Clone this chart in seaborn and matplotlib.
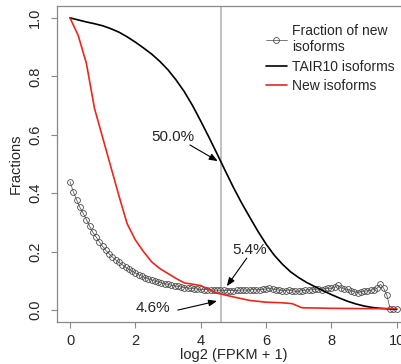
import numpy as np
import pandas as pd
import matplotlib
matplotlib.use("Agg")
import matplotlib.pyplot as plt
import seaborn as sns

# TAIR10 isoforms (black curve)
tair_x = [0, 0.25, 0.5, 0.75, 1.0, 1.25, 1.5, 1.75, 2.0, 2.25, 2.5, 2.75, 3.0,
          3.25, 3.5, 3.75, 4.0, 4.25, 4.5, 4.75, 5.0, 5.25, 5.5, 5.75, 6.0,
          6.25, 6.5, 6.75, 7.0, 7.25, 7.5, 7.75, 8.0, 8.25, 8.5, 8.75, 9.0,
          9.25, 9.5, 9.75, 10]
tair_y = [1.0, 0.993, 0.986, 0.98, 0.973, 0.963, 0.951, 0.935, 0.917, 0.897,
          0.876, 0.851, 0.822, 0.787, 0.747, 0.7, 0.647, 0.592, 0.535, 0.477,
          0.42, 0.367, 0.318, 0.27, 0.226, 0.188, 0.157, 0.131, 0.111, 0.094,
          0.08, 0.066, 0.053, 0.041, 0.03, 0.021, 0.014, 0.009, 0.006, 0.004,
          0.003]

# New isoforms (red curve)
new_x = [0, 0.25, 0.5, 0.75, 1.0, 1.25, 1.5, 1.75, 2.0, 2.25, 2.5, 2.75, 3.0,
         3.25, 3.5, 4.0, 4.5, 5.0, 5.5, 6.0, 6.5, 6.8, 7.1, 8.0, 9.0, 10]
new_y = [1.0, 0.94, 0.845, 0.69, 0.59, 0.49, 0.39, 0.295, 0.24, 0.2, 0.165,
         0.142, 0.125, 0.108, 0.093, 0.084, 0.058, 0.045, 0.033, 0.027, 0.025,
         0.022, 0.008, 0.006, 0.005, 0.005]

# Fraction of new isoforms (circles), x = 0, 0.1, ..., 10
frac_x = [round(0.1 * i, 1) for i in range(101)]
frac_y = [0.44, 0.405, 0.378, 0.352, 0.332, 0.31, 0.287, 0.266, 0.25, 0.233,
          0.218, 0.204, 0.192, 0.181, 0.172, 0.163, 0.155, 0.147, 0.14, 0.133,
          0.127, 0.121, 0.116, 0.111, 0.107, 0.103, 0.099, 0.096, 0.093, 0.09,
          0.088, 0.085, 0.083, 0.081, 0.079, 0.077, 0.076, 0.074, 0.073, 0.072,
          0.071, 0.07, 0.07, 0.069, 0.069, 0.068, 0.068, 0.068, 0.067, 0.067,
          0.067, 0.068, 0.068, 0.069, 0.068, 0.069, 0.07, 0.069, 0.07, 0.071,
          0.072, 0.075, 0.072, 0.07, 0.068, 0.066, 0.067, 0.069, 0.066, 0.064,
          0.065, 0.066, 0.068, 0.07, 0.069, 0.071, 0.072, 0.07, 0.073, 0.075,
          0.074, 0.078, 0.085, 0.076, 0.072, 0.071, 0.066, 0.063, 0.06, 0.062,
          0.064, 0.066, 0.068, 0.07, 0.075, 0.088, 0.075, 0.05, 0.003, 0.003,
          0.003]

cut_x = 4.63
notes = ["50.0%", "5.4%", "4.6%"]

sns.set_style("ticks")
plt.rcParams['font.family'] = ['Liberation Sans', 'DejaVu Sans']

fig = plt.figure(figsize=(4.01, 3.64), dpi=100)
ax = fig.add_axes([0.142, 0.116, 0.88, 0.867])

gray = "#8c8686"
ax.axvline(cut_x, color="#b0adad", lw=1.1, zorder=1)

sns.lineplot(x=frac_x, y=frac_y, ax=ax, color="#444444", lw=0.5,
             marker="o", markersize=4.2, markerfacecolor="none",
             markeredgecolor="#4a4a4a", markeredgewidth=0.6,
             label="Fraction of new\nisoforms", zorder=3)
sns.lineplot(x=tair_x, y=tair_y, ax=ax, color="black", lw=1.2,
             label="TAIR10 isoforms", zorder=4)
sns.lineplot(x=new_x, y=new_y, ax=ax, color="#e8281c", lw=1.2,
             label="New isoforms", zorder=4)

ax.set_xlim(-0.4, 10.4)
ax.set_ylim(-0.04, 1.04)
ax.set_xticks([0, 2, 4, 6, 8, 10])
ax.set_yticks([0.0, 0.2, 0.4, 0.6, 0.8, 1.0])
ax.set_yticklabels(["0.0", "0.2", "0.4", "0.6", "0.8", "1.0"], rotation=90,
                   va="center")
ax.tick_params(axis="both", direction="out", length=4.5, width=0.8,
               color=gray, labelsize=10.5, pad=4)
ax.tick_params(axis="y", pad=6)
for s in ax.spines.values():
    s.set_color(gray)
    s.set_linewidth(0.9)
ax.set_xlabel("log2 (FPKM + 1)", fontsize=10.5, labelpad=0)
ax.set_ylabel("Fractions", fontsize=10.5, labelpad=4)

arrow = dict(arrowstyle="-|>,head_length=0.5,head_width=0.2",
             color="black", lw=0.8, shrinkA=0, shrinkB=0)
ax.text(3.15, 0.592, notes[0], fontsize=11, ha="center", va="center")
ax.annotate("", xy=(4.52, 0.51), xytext=(3.67, 0.565), arrowprops=arrow)
ax.text(5.5, 0.205, notes[1], fontsize=11, ha="center", va="center")
ax.annotate("", xy=(4.8, 0.082), xytext=(5.41, 0.178), arrowprops=arrow)
ax.text(2.54, 0.007, notes[2], fontsize=11, ha="center", va="center")
ax.annotate("", xy=(4.5, 0.031), xytext=(3.3, 0.0), arrowprops=arrow)

ax.legend(loc="upper left", bbox_to_anchor=(266 / 401, 1 - 24 / 364),
          bbox_transform=fig.transFigure, frameon=False, fontsize=10,
          handlelength=1.5, handletextpad=0.35, borderpad=0, borderaxespad=0,
          labelspacing=0.4)

fig.savefig("out.png", dpi=100)
